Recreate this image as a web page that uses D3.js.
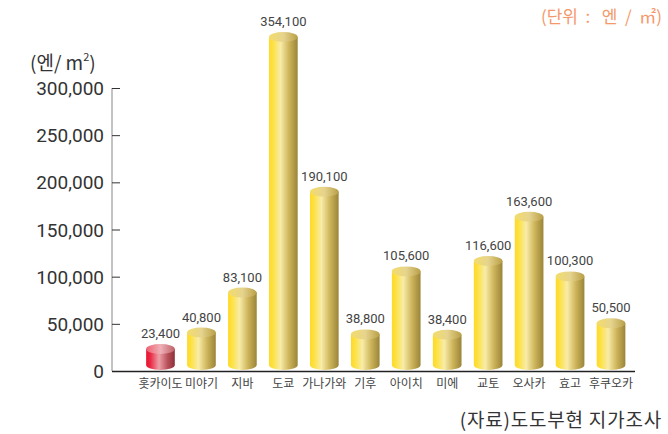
<!DOCTYPE html>
<html>
<head>
<meta charset="utf-8">
<script src="https://cdn.jsdelivr.net/npm/d3@7/dist/d3.min.js"></script>
<style>
  body { margin: 0; background: #fff; }
  svg text { font-family: "Noto Sans CJK KR", "Noto Sans", sans-serif; }
</style>
</head>
<body>
<div id="chart"></div>
<script>
// prefectures and land price (yen / m2)
const prefectures = ['홋카이도', '미야기', '지바', '도쿄', '가나가와', '기후', '아이치', '미에', '교토', '오사카', '효고', '후쿠오카'];
const prices = [23400, 40800, 83100, 354100, 190100, 38800, 105600, 38400, 116600, 163600, 100300, 50500];
const yTicks = [0, 50000, 100000, 150000, 200000, 250000, 300000];

const width = 668, height = 434;
const fmt = d3.format(',');

const svg = d3.select('#chart').append('svg')
    .attr('width', width)
    .attr('height', height);

const defs = svg.append('defs');

function bodyGrad(id, stops) {
  const g = defs.append('linearGradient').attr('id', id)
      .attr('x1', '0%').attr('x2', '100%').attr('y1', '0%').attr('y2', '0%');
  stops.forEach(s => g.append('stop').attr('offset', s[0]).attr('stop-color', s[1]));
}
bodyGrad('gold', [['0%', '#ffd92a'], ['12%', '#fde03c'], ['40%', '#f8eca8'], ['70%', '#cdb45a'], ['100%', '#9a8438']]);
bodyGrad('goldTop', [['0%', '#f3dc6a'], ['50%', '#e6d48e'], ['100%', '#b89e46']]);
bodyGrad('red', [['0%', '#e8132f'], ['15%', '#ea2a44'], ['45%', '#eda0a8'], ['75%', '#b8505a'], ['100%', '#8e3038']]);
bodyGrad('redTop', [['0%', '#f06070'], ['50%', '#eeb0b6'], ['100%', '#c06068']]);

const x = d3.scaleBand()
    .domain(prefectures)
    .range([140, 631.5])
    .paddingInner(0.3)
    .paddingOuter(0.15);

const y = d3.scaleLinear()
    .domain([0, 300000])
    .range([371, 88]);

// y axis
const yAxis = svg.append('g')
    .attr('transform', 'translate(112,0)')
    .call(d3.axisRight(y).tickValues(yTicks).tickSize(8).tickFormat(''));
yAxis.select('.domain').attr('stroke', '#888').attr('d', 'M0,371V88');
yAxis.selectAll('.tick line').attr('stroke', '#333');

svg.selectAll('.ylab')
  .data(yTicks)
  .enter().append('text')
    .attr('class', 'ylab')
    .attr('x', 104)
    .attr('y', d => y(d) + 7)
    .attr('text-anchor', 'end')
    .attr('font-size', 19)
    .attr('fill', '#333')
    .style('font-family', 'Roboto, "Noto Sans", sans-serif')
    .text(d => fmt(d));

// unit label
const unit = svg.append('text')
    .attr('x', 30).attr('y', 70)
    .attr('font-size', 19)
    .attr('fill', '#333');
unit.append('tspan').text('(엔/ m');
unit.append('tspan').attr('font-size', 11).attr('dy', -9).text('2');
unit.append('tspan').attr('dy', 9).text(')');

// bars as cylinders
const ry = 5;
const bars = svg.selectAll('.bar')
  .data(prefectures.map((p, i) => ({ name: p, value: prices[i], i: i })))
  .enter().append('g')
    .attr('class', 'bar');

bars.append('path')
    .attr('fill', d => d.i === 0 ? 'url(#red)' : 'url(#gold)')
    .attr('d', d => {
      const x0 = x(d.name), w = x.bandwidth(), rx = w / 2;
      const top = y(d.value), bot = y(0) - 1;
      return `M${x0},${top} L${x0},${bot - ry} A${rx},${ry} 0 0 0 ${x0 + w},${bot - ry} L${x0 + w},${top} Z`;
    });

bars.append('ellipse')
    .attr('cx', d => x(d.name) + x.bandwidth() / 2)
    .attr('cy', d => y(d.value))
    .attr('rx', x.bandwidth() / 2)
    .attr('ry', ry)
    .attr('fill', d => d.i === 0 ? 'url(#redTop)' : 'url(#goldTop)');

bars.append('text')
    .attr('x', d => x(d.name) + x.bandwidth() / 2)
    .attr('y', d => y(d.value) - 11)
    .attr('text-anchor', 'middle')
    .attr('font-size', 13)
    .attr('fill', '#444')
    .style('font-family', 'Roboto, "Noto Sans", sans-serif')
    .text(d => fmt(d.value));

// x axis baseline
svg.append('line')
    .attr('x1', 112).attr('x2', 635)
    .attr('y1', 371.5).attr('y2', 371.5)
    .attr('stroke', '#222')
    .attr('stroke-width', 1.5);

svg.selectAll('.xlab')
  .data(prefectures)
  .enter().append('text')
    .attr('class', 'xlab')
    .attr('x', d => x(d) + x.bandwidth() / 2)
    .attr('y', 388)
    .attr('text-anchor', 'middle')
    .attr('font-size', 12)
    .attr('fill', '#444')
    .text(d => d);

// top right unit
svg.append('text')
    .attr('x', 662).attr('y', 23)
    .attr('text-anchor', 'end')
    .attr('font-size', 17)
    .attr('fill', '#f5986a')
    .style('white-space', 'pre')
    .attr('xml:space', 'preserve')
    .text('(단위  :   엔  /  ㎡)');

// source
svg.append('text')
    .attr('x', 662).attr('y', 427)
    .attr('text-anchor', 'end')
    .attr('font-size', 19)
    .attr('letter-spacing', 0.8)
    .attr('fill', '#333')
    .text('(자료)도도부현 지가조사');
</script>
</body>
</html>
